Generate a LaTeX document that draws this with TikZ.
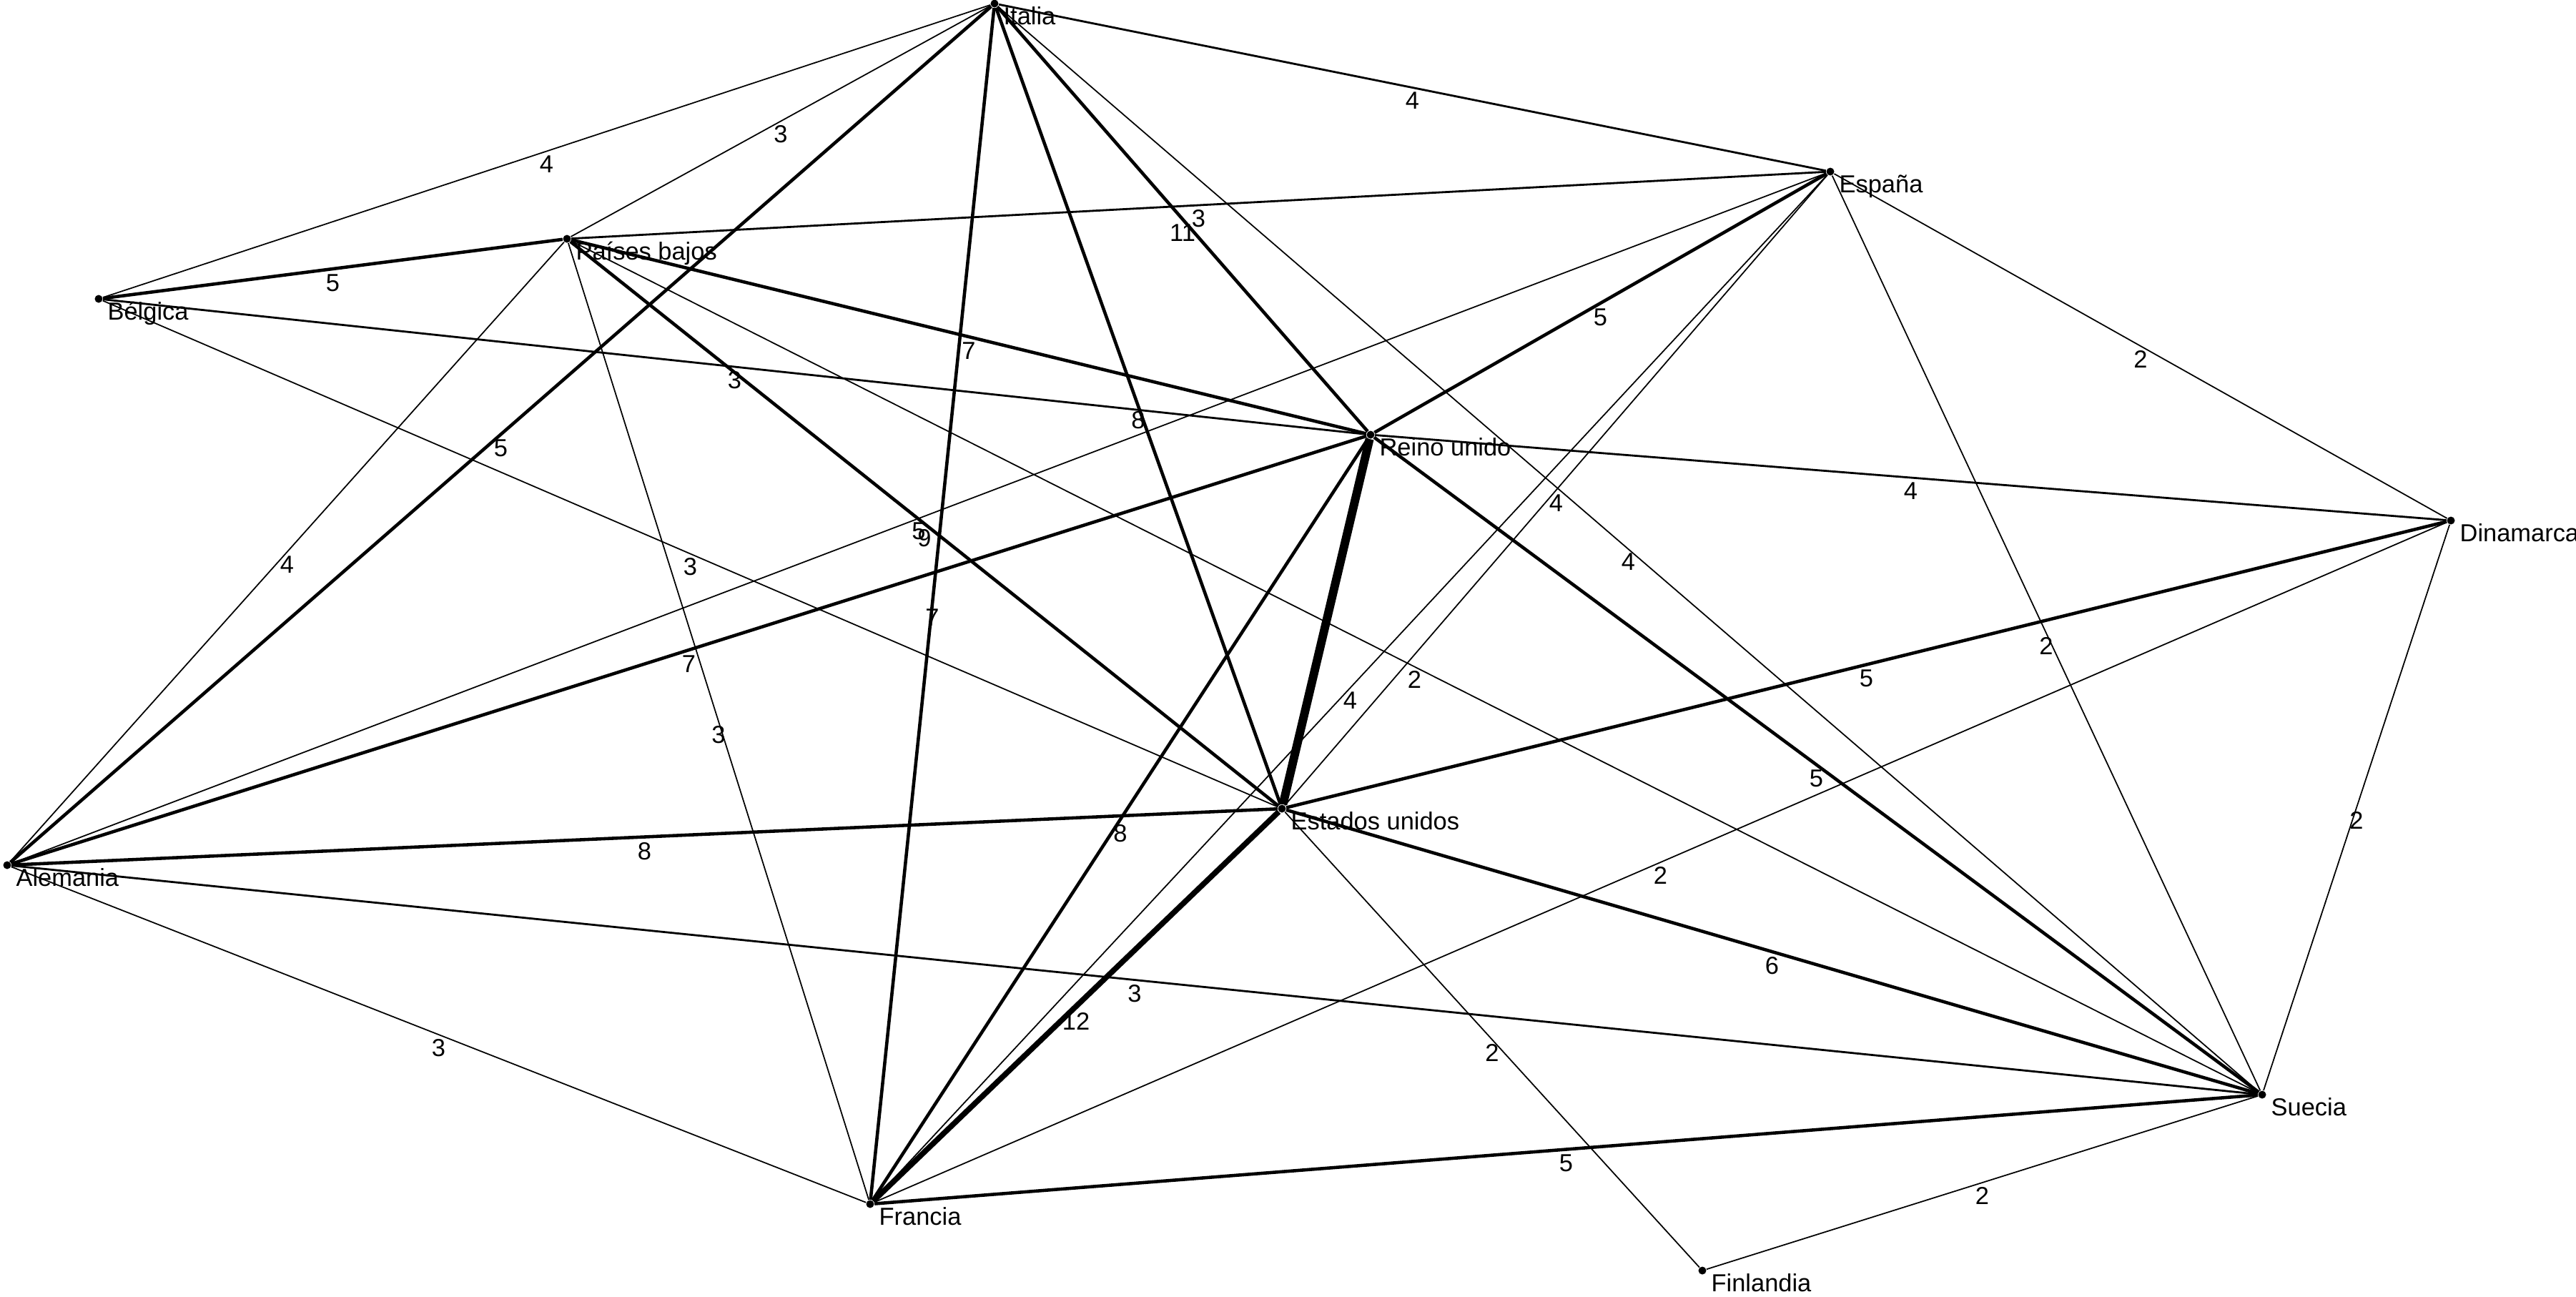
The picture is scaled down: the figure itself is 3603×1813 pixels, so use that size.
\documentclass[tikz,border=0pt]{standalone}
\usepackage{fontspec}
\setmainfont{Liberation Sans}
\usepackage{tikz}

\begin{document}
\begin{tikzpicture}[x=0.1mm, y=-0.1mm,
    country/.style={circle, fill, inner sep=0pt, minimum size=1.1mm},
    tag/.style={inner sep=0pt, xshift=0.75mm, yshift=0.05mm, font=\fontsize{9.8}{11}\selectfont},
    wt/.style={anchor=north, inner sep=1.5pt, font=\fontsize{9.8}{11}\selectfont},
    weak/.style={line width=0.5pt},
    light/.style={line width=0.8pt},
    strong/.style={line width=1.3pt},
    heavy/.style={line width=2.2pt},
    maxtie/.style={line width=3.4pt}
]
\useasboundingbox (0,0) rectangle (3603,1813);

% Countries
\node[country, label={[tag]south east:Italia}] (it) at (1391,5) {};
\node[country, label={[tag]south east:España}] (es) at (2560,240) {};
\node[country, label={[tag]south east:Países bajos}] (pb) at (793,334) {};
\node[country, label={[tag]south east:Bélgica}] (be) at (138,418) {};
\node[country, label={[tag]south east:Reino unido}] (uk) at (1917,608) {};
\node[country, label={[tag]south east:Dinamarca}] (dk) at (3428,728) {};
\node[country, label={[tag]south east:Estados unidos}] (us) at (1793,1131) {};
\node[country, label={[tag]south east:Alemania}] (de) at (10,1210) {};
\node[country, label={[tag]south east:Suecia}] (se) at (3164,1531) {};
\node[country, label={[tag]south east:Francia}] (fr) at (1217,1684) {};
\node[country, label={[tag]south east:Finlandia}] (fi) at (2381,1777) {};

% Ties
\draw[weak] (be) -- node[wt] {4} (it);
\draw[strong] (be) -- node[wt] {5} (pb);
\draw[light] (be) -- node[wt] {3} (uk);
\draw[weak] (be) -- node[wt] {3} (us);
\draw[weak] (pb) -- node[wt] {3} (it);
\draw[light] (pb) -- node[wt] {3} (es);
\draw[weak] (pb) -- node[wt] {4} (de);
\draw[weak] (pb) -- node[wt] {3} (fr);
\draw[strong] (pb) -- node[wt] {9} (us);
\draw[strong] (pb) -- node[wt] {7} (uk);
\draw[weak] (pb) -- node[wt] {2} (se);
\draw[light] (it) -- node[wt] {4} (es);
\draw[strong] (de) -- node[wt] {5} (it);
\draw[strong] (it) -- node[wt] {7} (fr);
\draw[strong] (it) -- node[wt] {8} (us);
\draw[strong] (it) -- node[wt] {11} (uk);
\draw[weak] (it) -- node[wt] {4} (se);
\draw[strong] (uk) -- node[wt] {5} (es);
\draw[weak] (de) -- node[wt] {5} (es);
\draw[weak] (us) -- node[wt] {4} (es);
\draw[weak] (fr) -- node[wt] {4} (es);
\draw[weak] (es) -- node[wt] {2} (se);
\draw[weak] (es) -- node[wt] {2} (dk);
\draw[light] (uk) -- node[wt] {4} (dk);
\draw[strong] (uk) -- node[wt] {5} (se);
\draw[maxtie] (uk) -- (us);
\draw[strong] (fr) -- node[wt] {8} (uk);
\draw[strong] (de) -- node[wt] {7} (uk);
\draw[strong] (us) -- node[wt] {5} (dk);
\draw[weak] (fr) -- node[wt] {2} (dk);
\draw[weak] (dk) -- node[wt] {2} (se);
\draw[strong] (us) -- node[wt] {6} (se);
\draw[weak] (us) -- node[wt] {2} (fi);
\draw[heavy] (fr) -- node[wt] {12} (us);
\draw[strong] (de) -- node[wt] {8} (us);
\draw[light] (de) -- node[wt] {3} (se);
\draw[strong] (fr) -- node[wt] {5} (se);
\draw[weak] (fi) -- node[wt] {2} (se);
\draw[weak] (de) -- node[wt] {3} (fr);
\end{tikzpicture}
\end{document}
